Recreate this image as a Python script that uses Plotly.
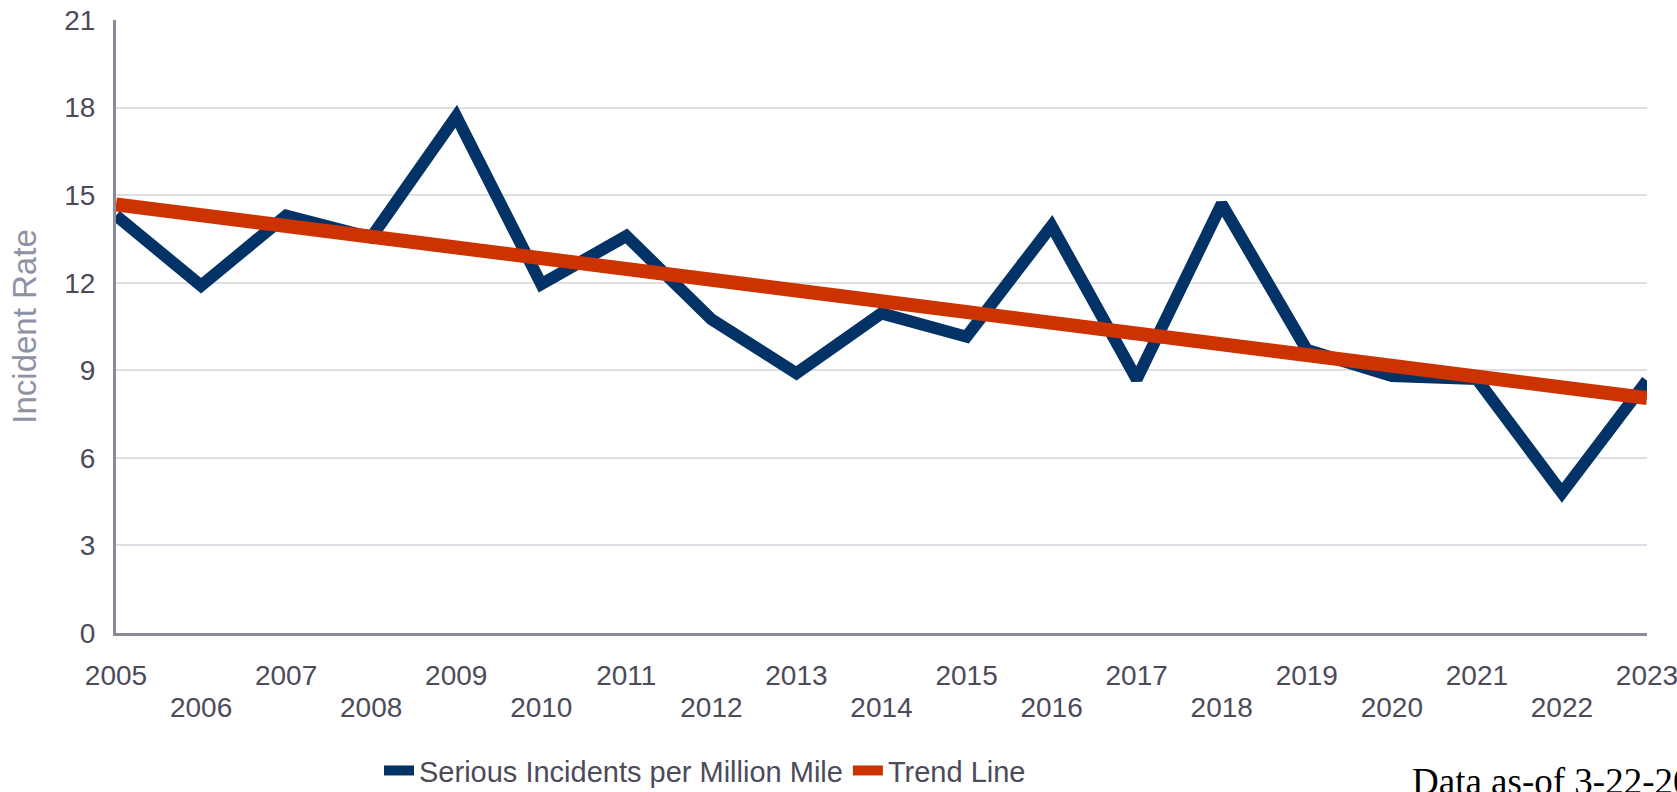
import plotly.graph_objects as go

years = list(range(2005, 2024))
incidents = [14.3, 11.9, 14.3, 13.55, 17.7, 11.95, 13.6, 10.75, 8.9, 10.95,
             10.15, 13.95, 8.7, 14.7, 9.7, 8.8, 8.7, 4.8, 8.65]
trend_years = [2005, 2023]
trend_values = [14.68, 8.05]
odd_years = [y for y in years if y % 2 == 1]
even_years = [y for y in years if y % 2 == 0]
y_ticks = [0, 3, 6, 9, 12, 15, 18, 21]

NAVY = "#033366"
ORANGE = "#cc3300"
TICK_COLOR = "#4b4b5a"
AXIS_COLOR = "#8a8a9c"
GRID_COLOR = "#dedee6"
FONT = "Liberation Sans, Arial, sans-serif"

fig = go.Figure()
fig.add_trace(go.Scatter(
    x=years, y=incidents, mode="lines",
    name="Serious Incidents per Million Mile",
    line=dict(color=NAVY, width=12),
    xaxis="x", yaxis="y",
))
fig.add_trace(go.Scatter(
    x=trend_years, y=trend_values, mode="lines",
    name="Trend Line",
    line=dict(color=ORANGE, width=14),
    xaxis="x2", yaxis="y",
))

fig.update_layout(
    width=1677, height=792,
    margin=dict(l=116, r=30, t=20, b=159, autoexpand=False),
    paper_bgcolor="white", plot_bgcolor="white",
    font=dict(family=FONT, size=28, color=TICK_COLOR),
    xaxis=dict(
        range=[2005, 2023], tickmode="array", tickvals=odd_years,
        ticktext=[str(y) for y in odd_years],
        showgrid=False, zeroline=False, showline=True,
        linecolor=AXIS_COLOR, linewidth=3, ticks="", automargin=False,
        ticklabeloverflow="allow",
        tickfont=dict(size=28, color=TICK_COLOR), ticklabelstandoff=15,
    ),
    xaxis2=dict(
        range=[2005, 2023], overlaying="x", matches="x", side="bottom",
        tickmode="array", tickvals=even_years,
        ticktext=[str(y) for y in even_years], automargin=False,
        ticklabeloverflow="allow",
        showgrid=False, zeroline=False, showline=False, ticks="",
        tickfont=dict(size=28, color=TICK_COLOR), ticklabelstandoff=55,
    ),
    yaxis=dict(
        range=[0, 21], tickmode="array", tickvals=y_ticks,
        showgrid=True, gridcolor=GRID_COLOR, gridwidth=2,
        zeroline=False, showline=True, linecolor=AXIS_COLOR, linewidth=3,
        ticks="", tickfont=dict(size=28, color=TICK_COLOR),
        ticklabelstandoff=12, automargin=False,
        title=dict(text="Incident Rate", font=dict(size=33, color="#8d92a5"),
                   standoff=18),
    ),
    showlegend=True,
    legend=dict(
        orientation="h", xref="container", yref="container",
        x=0.226, xanchor="left", y=0.027, yanchor="middle",
        font=dict(size=29, color=TICK_COLOR), bgcolor="rgba(0,0,0,0)",
        borderwidth=0,
    ),
    annotations=[dict(
        text="Data as-of 3-22-2024", xref="paper", yref="paper",
        x=(1410 - 116) / (1677 - 116 - 30), xanchor="left",
        y=-0.2056, yanchor="top",
        showarrow=False,
        font=dict(family="Liberation Serif, Times New Roman, serif", size=37, color="black"),
    )],
)

fig.write_html(
    "out.html",
    config={"displayModeBar": False},
    post_script="document.body.style.margin='0';document.body.style.overflow='hidden';",
)
